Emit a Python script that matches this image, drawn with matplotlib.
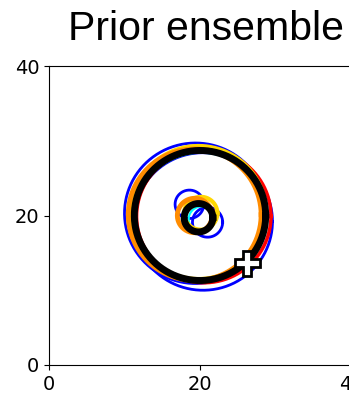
import numpy as np
import matplotlib.pyplot as plt

# ensemble members: colour, outer ring (cx, cy, r), inner ring (cx, cy, r), line width
colors = ['blue', 'blue', 'cyan', 'red', 'gold', 'darkorange', 'black']
outer_cx = [19.4, 20.4, 20.1, 20.5, 19.8, 19.3, 20.0]
outer_cy = [20.3, 19.2, 19.7, 19.9, 20.4, 20.1, 20.0]
outer_r = [9.4, 9.2, 8.7, 8.9, 8.9, 8.8, 8.7]
inner_cx = [18.6, 21.0, 20.2, 19.9, 20.1, 19.3, 19.8]
inner_cy = [21.5, 19.1, 19.5, 19.8, 20.3, 20.0, 19.7]
inner_r = [1.9, 2.0, 1.7, 2.0, 2.2, 2.3, 1.9]
widths = [2.0, 2.0, 1.5, 2.5, 3.0, 3.5, 5.0]

truth_x = [26.2]
truth_y = [13.6]

fig = plt.figure(figsize=(3.49, 3.96), dpi=100)
ax = fig.add_axes([49 / 349, 31 / 396, 302 / 349, 299 / 396])

t = np.linspace(0, 2 * np.pi, 200)
for c, ox, oy, orad, ix, iy, irad, lw in zip(colors, outer_cx, outer_cy, outer_r,
                                             inner_cx, inner_cy, inner_r, widths):
    ax.plot(ox + orad * np.cos(t), oy + orad * np.sin(t), color=c, lw=lw)
    ax.plot(ix + irad * np.cos(t), iy + irad * np.sin(t), color=c, lw=lw)

ax.plot(truth_x, truth_y, 'P', color='white', markeredgecolor='black',
        markeredgewidth=2, markersize=18)

ax.set_xlim(0, 40)
ax.set_ylim(0, 40)
ax.set_xticks([0, 20, 40])
ax.set_yticks([0, 20, 40])
ax.tick_params(labelsize=14)

fig.text(0.589, 0.9, 'Prior ensemble', fontsize=29.5, family='Liberation Sans',
         ha='center', va='baseline')

fig.savefig('out.png', dpi=100)
